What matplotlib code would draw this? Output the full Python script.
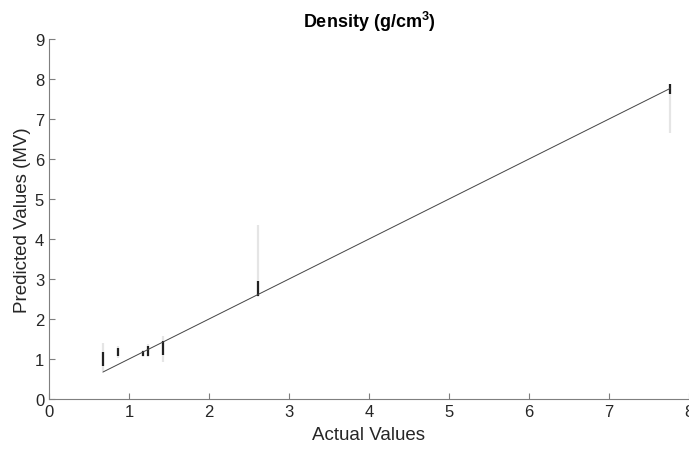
import matplotlib
matplotlib.use('Agg')
import matplotlib.pyplot as plt

# vertical clusters of predictions at each actual density value
cluster_x = [0.675, 0.86, 1.17, 1.24, 1.42, 2.61, 7.76]
tail_lo = [0.70, 1.02, 1.05, 1.05, 0.92, 2.55, 6.65]
tail_hi = [1.40, 1.32, 1.22, 1.38, 1.57, 4.35, 7.88]
core_lo = [0.82, 1.07, 1.08, 1.08, 1.10, 2.57, 7.62]
core_hi = [1.17, 1.27, 1.19, 1.33, 1.45, 2.95, 7.87]

# identity reference line
line_x = [0.675, 7.76]
line_y = [0.675, 7.76]

plt.rcParams['font.family'] = ['Liberation Sans', 'DejaVu Sans']
plt.rcParams['mathtext.default'] = 'regular'

fig = plt.figure(figsize=(6.89, 4.52), dpi=100)
ax = fig.add_axes([0.0711, 0.115, 0.9289, 0.7965])

ax.vlines(cluster_x, tail_lo, tail_hi, color='black', alpha=0.1, linewidth=1.6)
ax.vlines(cluster_x, core_lo, core_hi, color='black', alpha=0.85, linewidth=1.6)
ax.plot(line_x, line_y, color='#444444', linewidth=0.7)

ax.set_xlim(0, 8)
ax.set_ylim(0, 9)
ax.set_xticks(range(0, 9))
ax.set_yticks(range(0, 10))

for side in ['top', 'right']:
    ax.spines[side].set_visible(False)
for side in ['left', 'bottom']:
    ax.spines[side].set_color('#7f7f7f')
    ax.spines[side].set_linewidth(0.8)
ax.tick_params(direction='in', length=4, width=0.8, color='#7f7f7f',
               labelsize=12, labelcolor='#262626')

ax.set_xlabel('Actual Values', fontsize=13.5, color='#262626', labelpad=5)
ax.set_ylabel('Predicted Values (MV)', fontsize=13.5, color='#262626', labelpad=3)
ax.set_title('Density (g/cm$^3$)', fontsize=13, fontweight='bold', pad=9)

fig.savefig('out.png', dpi=100)
